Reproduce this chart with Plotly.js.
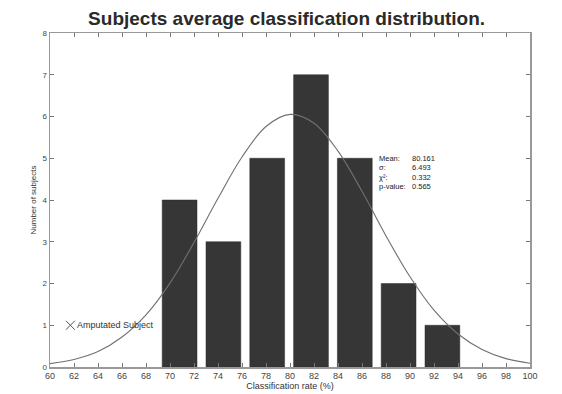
<!DOCTYPE html>
<html>
<head>
<meta charset="utf-8">
<script src="https://cdn.plot.ly/plotly-3.0.1.min.js"></script>
<style>html,body{margin:0;padding:0;background:#fff;}#chart{width:562px;height:394px;}</style>
</head>
<body>
<div id="chart"></div>
<script>
// Histogram bins (bin centres, % classification rate) and counts
var binCenters = [70.8, 74.45, 78.1, 81.75, 85.4, 89.05, 92.7];
var binCounts = [4, 3, 5, 7, 5, 2, 1];
var barWidth = 2.9;

// Fitted normal curve
var curveX = [60, 62, 64, 66, 68, 70, 72, 74, 76, 78, 80, 82, 84, 86, 88, 90, 92, 94, 96, 98, 100];
var curveY = [0.08, 0.18, 0.37, 0.72, 1.25, 2.01, 2.98, 4.04, 5.03, 5.76, 6.05, 5.84, 5.17, 4.21, 3.14, 2.16, 1.36, 0.79, 0.42, 0.20, 0.09];

// Amputated subject marker
var ampX = [61.7];
var ampY = [1];
var ampLabel = ["Amputated Subject"];

// Fit statistics
var statLabels = ["Mean:", "σ:", "χ²:", "p-value:"];
var statValues = ["80.161", "6.493", "0.332", "0.565"];

var xTicks = [];
for (var t = 60; t <= 100; t += 2) xTicks.push(t);
var yTicks = [0, 1, 2, 3, 4, 5, 6, 7, 8];

var FONT = 'Liberation Sans, Arial, Helvetica, sans-serif';

var traces = [
  {
    type: 'bar', x: binCenters, y: binCounts, width: barWidth,
    marker: {color: '#363636', line: {color: '#2a2a2a', width: 0.5}},
    hoverinfo: 'skip'
  },
  {
    type: 'scatter', mode: 'lines', x: curveX, y: curveY,
    line: {color: '#707070', width: 1.1, shape: 'spline', smoothing: 1.0},
    hoverinfo: 'skip'
  },
  {
    type: 'scatter', mode: 'markers+text', x: ampX, y: ampY, text: ampLabel,
    textposition: 'middle right',
    textfont: {family: FONT, size: 9, color: '#333'},
    marker: {symbol: 'x-thin-open', size: 9, color: '#555', line: {color: '#555', width: 1}},
    hoverinfo: 'skip'
  }
];

var annotations = [];
var statY0 = 0.624, statDy = 0.028;
for (var i = 0; i < statLabels.length; i++) {
  annotations.push({
    xref: 'paper', yref: 'paper', x: 0.681, y: statY0 - i * statDy,
    xanchor: 'left', yanchor: 'middle', showarrow: false,
    text: statLabels[i], font: {family: FONT, size: 7.5, color: '#222'}
  });
  annotations.push({
    xref: 'paper', yref: 'paper', x: 0.75, y: statY0 - i * statDy,
    xanchor: 'left', yanchor: 'middle', showarrow: false,
    text: statValues[i], font: {family: FONT, size: 7.5, color: '#222'}
  });
}

var layout = {
  width: 562, height: 394,
  margin: {l: 50, r: 32, t: 33, b: 27},
  paper_bgcolor: '#fff', plot_bgcolor: '#fff',
  showlegend: false,
  title: {
    text: '<b>Subjects average classification distribution.</b>',
    font: {family: FONT, size: 19, color: '#2a2a2a'},
    x: 0.51, xanchor: 'center', y: 0.953, yanchor: 'middle'
  },
  xaxis: {
    range: [60, 100], tickvals: xTicks, ticktext: xTicks.map(String),
    ticks: 'inside', ticklen: 4, tickcolor: '#777', tickwidth: 1,
    showline: true, linecolor: '#999', linewidth: 1.5, mirror: 'ticks',
    showgrid: false, zeroline: false,
    tickfont: {family: FONT, size: 9, color: '#444'},
    title: {text: 'Classification rate (%)', standoff: 2,
      font: {family: FONT, size: 9, color: '#333'}}
  },
  yaxis: {
    range: [0, 8], tickvals: yTicks,
    ticks: 'inside', ticklen: 4, tickcolor: '#777', tickwidth: 1,
    showline: true, linecolor: '#999', linewidth: 1.5, mirror: 'ticks',
    showgrid: false, zeroline: false,
    tickfont: {family: FONT, size: 8, color: '#444'},
    title: {text: 'Number of subjects', standoff: 4,
      font: {family: FONT, size: 8, color: '#333'}}
  },
  bargap: 0,
  annotations: annotations
};

Plotly.newPlot('chart', traces, layout, {displayModeBar: false, staticPlot: true});
</script>
</body>
</html>
